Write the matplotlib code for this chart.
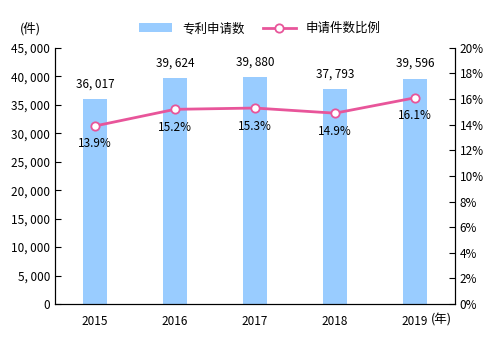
import matplotlib

matplotlib.use("Agg")
import matplotlib.pyplot as plt
from matplotlib.ticker import FuncFormatter

plt.rcParams["font.family"] = ["Noto Sans CJK SC", "DejaVu Sans"]
plt.rcParams["font.size"] = 8.5

years = ["2015", "2016", "2017", "2018", "2019"]
patents = [36017, 39624, 39880, 37793, 39596]
ratio = [13.9, 15.2, 15.3, 14.9, 16.1]

bar_color = "#99CCFF"
line_color = "#E8559A"

fig = plt.figure(figsize=(5.0, 3.37), dpi=100)
ax = fig.add_axes([0.11, 0.098, 0.80, 0.76])
x = list(range(len(years)))

ax.bar(x, patents, width=0.31, color=bar_color, label="专利申请数", zorder=2)
ax.set_xlim(-0.5, len(years) - 0.5)
ax.set_ylim(0, 45000)
ax.set_yticks(range(0, 45001, 5000))
ax.yaxis.set_major_formatter(FuncFormatter(lambda v, p: f"{int(v):,}".replace(",", ", ")))
ax.set_xticks(x)
ax.set_xticklabels(years)
ax.tick_params(axis="x", length=0, pad=8)
ax.tick_params(axis="y", direction="in", length=4)
ax.spines["top"].set_visible(False)

for xi, v in zip(x, patents):
    ax.text(xi, v + 1500, f"{v:,}".replace(",", ", "), ha="center", va="bottom")

ax2 = ax.twinx()
ax2.set_ylim(0, 20)
ax2.set_yticks(range(0, 21, 2))
ax2.yaxis.set_major_formatter(FuncFormatter(lambda v, p: f"{int(v)}%"))
ax2.tick_params(axis="y", direction="in", length=4)
ax2.spines["top"].set_visible(False)
ax2.plot(x, ratio, color=line_color, lw=2, marker="o", ms=6,
         markerfacecolor="white", markeredgecolor=line_color, markeredgewidth=1.3,
         label="申请件数比例", zorder=3)
for xi, v in zip(x, ratio):
    ax2.text(xi, v - 0.9, f"{v:.1f}%", ha="center", va="top")

fig.text(0.06, 0.915, "(件)", ha="center", va="center", fontsize=9)
fig.text(0.862, 0.05, "(年)", ha="left", va="center", fontsize=9)

h1, l1 = ax.get_legend_handles_labels()
h2, l2 = ax2.get_legend_handles_labels()
fig.legend(h1 + h2, l1 + l2, loc="center", bbox_to_anchor=(0.52, 0.915), ncol=2,
           frameon=False, handlelength=2.6, columnspacing=1.5, fontsize=9)

fig.savefig("out.png", dpi=100)
